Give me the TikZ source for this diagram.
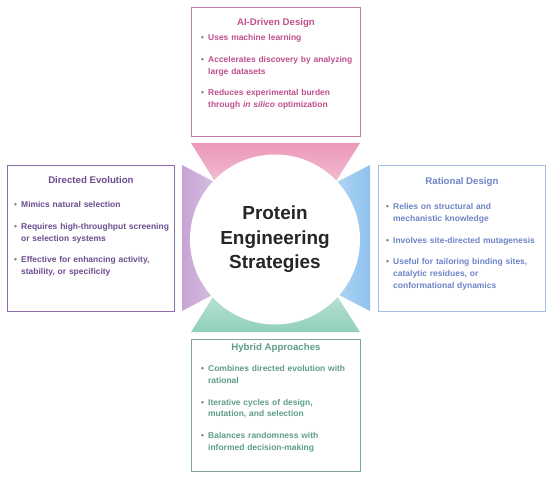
\documentclass[tikz,border=0pt]{standalone}
\usepackage{fontspec}
\setmainfont{Liberation Sans}
\usepackage{enumitem}
\usetikzlibrary{positioning}
\definecolor{aitext}{HTML}{BF4F8B}
\definecolor{aiedge}{HTML}{BE7CA6}
\definecolor{aifan}{HTML}{EB98B8}
\definecolor{evotext}{HTML}{6B4D8E}
\definecolor{evoedge}{HTML}{8D6CAA}
\definecolor{evofan}{HTML}{C7A3D5}
\definecolor{rattext}{HTML}{6C83C6}
\definecolor{ratedge}{HTML}{A6BEE8}
\definecolor{ratfan}{HTML}{8EC2EE}
\definecolor{hybtext}{HTML}{5E9C8B}
\definecolor{hybedge}{HTML}{7FA69E}
\definecolor{hybfan}{HTML}{92D0BD}
\tikzset
{
  stratbox/.style = {rectangle, draw=#1, line width=0.9bp, anchor=north west, inner sep=0pt},
  boxtitle/.style = {font=\bfseries\fontsize{9.7}{11}\selectfont, text=#1, anchor=base},
  boxlist/.style  = {font=\bfseries\fontsize{8.5}{11.7}\selectfont, text=#1, text width=165bp, align=left, anchor=north west, inner sep=0pt},
  hubtext/.style  = {circle, fill=white, minimum size=170bp, align=center, font=\bfseries\fontsize{19}{24.5}\selectfont, text=black!85}
}
\newcommand{\stratitems}[1]{\begin{itemize}[label={\color{gray}\textbullet}, leftmargin=9bp, labelsep=4bp, itemsep=10bp, topsep=0pt, parsep=0pt, partopsep=0pt]#1\end{itemize}}

\begin{document}
\begin{tikzpicture}[x=1bp, y=-1bp]
  \useasboundingbox (0,0) rectangle (550,479);

  % fans between the hub and the boxes
  \shade[top color=aifan, bottom color=aifan!15] (191,143) -- (360,143) -- (300,238) -- (250,238) -- cycle;
  \shade[bottom color=hybfan, top color=hybfan!12] (191,332) -- (360,332) -- (300,238) -- (250,238) -- cycle;
  \shade[left color=evofan, right color=evofan!15] (182,165) -- (182,311) -- (275,262) -- (275,214) -- cycle;
  \shade[right color=ratfan, left color=ratfan!15] (370,165) -- (370,311) -- (275,262) -- (275,214) -- cycle;

  \node[hubtext] (hub) at (275,239.5) {Protein\\Engineering\\Strategies};

  % AI-driven
  \node[stratbox=aiedge, minimum width=169bp, minimum height=129bp] (aibox) at (191,7) {};
  \node[boxtitle=aitext] (aititle) at ([yshift=-18.5bp]aibox.north) {AI-Driven Design};
  \node[boxlist=aitext] (ailist) at ([xshift=8bp,yshift=-22bp]aibox.north west) {\stratitems{
    \item Uses machine learning
    \item Accelerates discovery by analyzing\\large datasets
    \item Reduces experimental burden\\through \textit{in silico} optimization}};

  % directed evolution
  \node[stratbox=evoedge, minimum width=167bp, minimum height=146bp] (evobox) at (7,165) {};
  \node[boxtitle=evotext] (evotitle) at ([yshift=-18.5bp]evobox.north) {Directed Evolution};
  \node[boxlist=evotext] (evolist) at ([xshift=5bp,yshift=-31bp]evobox.north west) {\stratitems{
    \item Mimics natural selection
    \item Requires high-throughput screening\\or selection systems
    \item Effective for enhancing activity,\\stability, or specificity}};

  % rational design
  \node[stratbox=ratedge, minimum width=167bp, minimum height=146bp] (ratbox) at (378,165) {};
  \node[boxtitle=rattext] (rattitle) at ([yshift=-19.5bp]ratbox.north) {Rational Design};
  \node[boxlist=rattext] (ratlist) at ([xshift=6bp,yshift=-33bp]ratbox.north west) {\stratitems{
    \item Relies on structural and\\mechanistic knowledge
    \item Involves site-directed mutagenesis
    \item Useful for tailoring binding sites,\\catalytic residues, or\\conformational dynamics}};

  % hybrid
  \node[stratbox=hybedge, minimum width=169bp, minimum height=132bp] (hybbox) at (191,339) {};
  \node[boxtitle=hybtext] (hybtitle) at ([yshift=-11.5bp]hybbox.north) {Hybrid Approaches};
  \node[boxlist=hybtext] (hyblist) at ([xshift=8bp,yshift=-21bp]hybbox.north west) {\stratitems{
    \item Combines directed evolution with\\rational
    \item Iterative cycles of design,\\mutation, and selection
    \item Balances randomness with\\informed decision-making}};
\end{tikzpicture}
\end{document}
